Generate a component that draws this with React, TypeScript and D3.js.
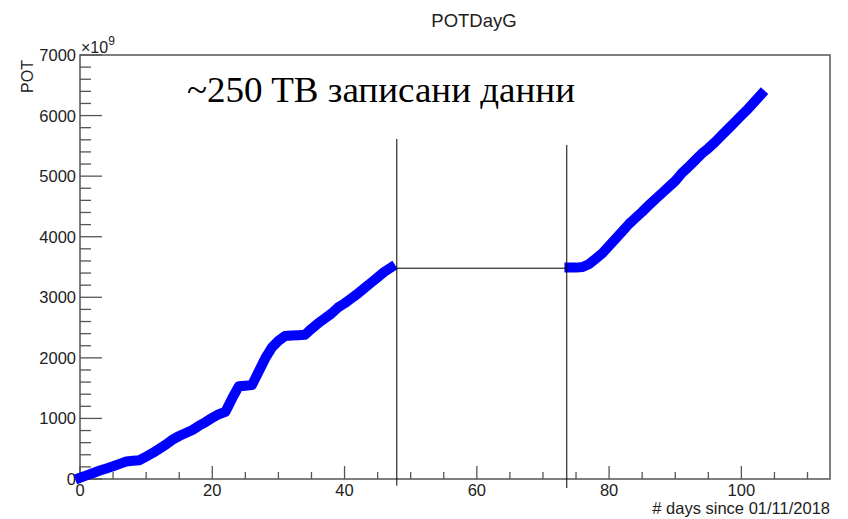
import React from "react";
import * as d3 from "d3";

// Segment 1: days since 01/11/2018 and cumulative POT (x1e9)
const days1 = [0,1,2,3,4,5,6,7,8,9,10,11,12,13,14,15,16,17,18,19,20,21,22,23,24,25,26,27,28,29,30,31,32,33,34,35,36,37,38,39,40,41,42,43,44,45,46,47];
const pot1 = [20,60,100,140,175,210,250,290,300,310,370,430,500,570,650,710,760,810,880,940,1010,1070,1110,1330,1530,1540,1550,1770,1990,2170,2280,2360,2370,2375,2380,2480,2570,2650,2730,2830,2900,2980,3060,3150,3240,3330,3420,3490];
// Segment 2
const days2 = [74,75,76,77,78,79,80,81,82,83,84,85,86,87,88,89,90,91,92,93,94,95,96,97,98,99,100,101,102,103];
const pot2 = [3490,3490,3500,3550,3640,3730,3850,3970,4090,4210,4310,4410,4520,4620,4720,4820,4920,5050,5150,5260,5370,5460,5560,5670,5780,5890,6000,6110,6230,6350];

const xMajorTicks = [0, 20, 40, 60, 80, 100];
const yMajorTicks = [0, 1000, 2000, 3000, 4000, 5000, 6000, 7000];

// annotation lines (data coordinates)
const vLine1 = { x: 47.9, y0: -110, y1: 5614 };
const vLine2 = { x: 73.6, y0: -150, y1: 5515 };
const hLine = { x0: 47.9, x1: 73.6, y: 3480 };

const title = "POTDayG";
const xTitle = "# days since 01/11/2018";
const yTitle = "POT";
const note = "~250 TB записани данни";

export default function App() {
  const W = 848, H = 519;
  const L = 80, R = 830, T = 55, B = 479;
  const x = d3.scaleLinear().domain([0, 113.4]).range([L, R]);
  const y = d3.scaleLinear().domain([0, 7000]).range([B, T]);
  const xMinor = d3.range(0, 113.4, 5).filter((v) => v % 20 !== 0);
  const yMinor = d3.range(0, 7001, 200).filter((v) => v % 1000 !== 0);
  const line = d3.line<[number, number]>().x((d) => x(d[0])).y((d) => y(d[1]));
  const seg1 = days1.map((d, i) => [d, pot1[i]] as [number, number]);
  const seg2 = days2.map((d, i) => [d, pot2[i]] as [number, number]);
  const sans = "'Liberation Sans', Arial, Helvetica, sans-serif";
  const axisCol = "#555";
  const textCol = "#222";
  return (
    <svg width={W} height={H} style={{ position: "absolute", left: 0, top: 0, background: "#fff" }}>
      <rect x={0} y={0} width={W} height={H} fill="#fff" />
      <text x={474} y={27} textAnchor="middle" fontFamily={sans} fontSize={18.5} fill={textCol}>{title}</text>
      {/* frame */}
      <rect x={L} y={T} width={R - L} height={B - T} fill="none" stroke={axisCol} strokeWidth={1.5} />
      {/* y ticks */}
      {yMajorTicks.map((v) => (
        <g key={"ym" + v}>
          <line x1={L} x2={L + 22} y1={y(v)} y2={y(v)} stroke={axisCol} strokeWidth={1.3} />
          <text x={L - 4} y={y(v)} dy="0.36em" textAnchor="end" fontFamily={sans} fontSize={16.5} fill={textCol}>{v}</text>
        </g>
      ))}
      {yMinor.map((v) => (
        <line key={"yn" + v} x1={L} x2={L + 11} y1={y(v)} y2={y(v)} stroke={axisCol} strokeWidth={1.3} />
      ))}
      {/* x ticks */}
      {xMajorTicks.map((v) => (
        <g key={"xm" + v}>
          <line x1={x(v)} x2={x(v)} y1={B} y2={B - 13} stroke={axisCol} strokeWidth={1.3} />
          <text x={x(v)} y={496} textAnchor="middle" fontFamily={sans} fontSize={16.5} fill={textCol}>{v}</text>
        </g>
      ))}
      {xMinor.map((v) => (
        <line key={"xn" + v} x1={x(v)} x2={x(v)} y1={B} y2={B - 7} stroke={axisCol} strokeWidth={1.3} />
      ))}
      <text x={R} y={514} textAnchor="end" fontFamily={sans} fontSize={16.5} fill={textCol}>{xTitle}</text>
      <text transform={`translate(33,60) rotate(-90)`} textAnchor="end" fontFamily={sans} fontSize={16} fill={textCol}>{yTitle}</text>
      <text x={81} y={53} fontFamily={sans} fontSize={16} fill={textCol}>
        ×10<tspan dy={-8} fontSize={12}>9</tspan>
      </text>
      {/* data */}
      <path d={line(seg1) || ""} fill="none" stroke="#0000ff" strokeWidth={10} strokeLinejoin="round" strokeLinecap="square" />
      <path d={line(seg2) || ""} fill="none" stroke="#0000ff" strokeWidth={10} strokeLinejoin="round" strokeLinecap="square" />
      {/* annotations */}
      <line x1={x(vLine1.x)} x2={x(vLine1.x)} y1={y(vLine1.y0)} y2={y(vLine1.y1)} stroke="#000" strokeWidth={1} />
      <line x1={x(vLine2.x)} x2={x(vLine2.x)} y1={y(vLine2.y0)} y2={y(vLine2.y1)} stroke="#000" strokeWidth={1} />
      <line x1={x(hLine.x0)} x2={x(hLine.x1)} y1={y(hLine.y)} y2={y(hLine.y)} stroke="#000" strokeWidth={1} />
      <text x={187} y={102} fontFamily="'Liberation Serif', 'Times New Roman', serif" fontSize={35} textLength={388} lengthAdjust="spacingAndGlyphs" fill="#000">{note}</text>
    </svg>
  );
}
